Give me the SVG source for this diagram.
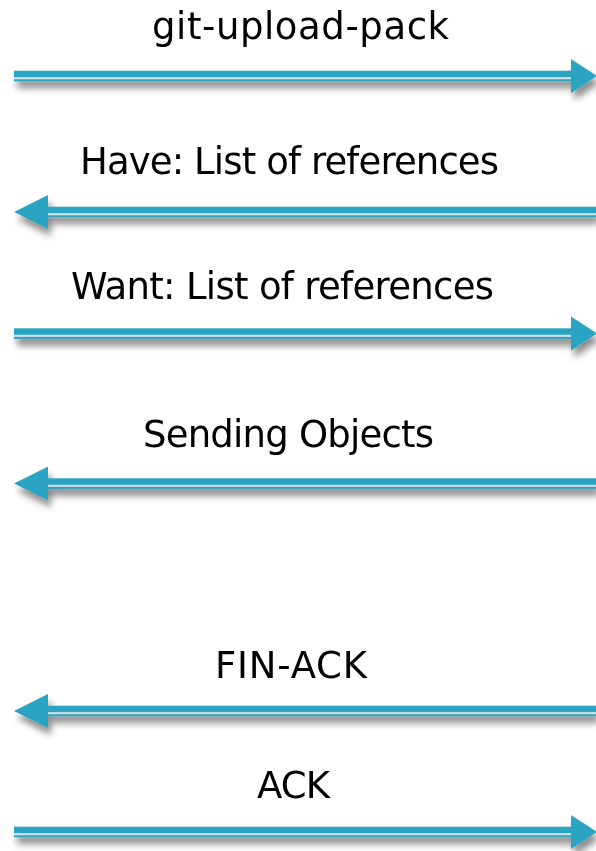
<svg xmlns="http://www.w3.org/2000/svg" width="596" height="851" viewBox="0 0 596 851">
  <style>
    .label { font-family: "DejaVu Sans", "Liberation Sans", sans-serif; font-size: 37px; fill: #000; }
    .shaft { fill: #2ca4c2; }
    .gap { fill: #d3dcdf; }
    .head { fill: #2ca4c2; }
  </style>
  <defs>
    <filter id="shadow" x="-5%" y="-100%" width="110%" height="300%">
      <feGaussianBlur in="SourceAlpha" stdDeviation="3.5"/>
      <feOffset dx="3" dy="7" result="blur"/>
      <feComponentTransfer><feFuncA type="linear" slope="0.45"/></feComponentTransfer>
      <feMerge><feMergeNode/><feMergeNode in="SourceGraphic"/></feMerge>
    </filter>
    <!-- double-line shaft with an arrowhead, centred on y=0 -->
    <g id="arrow-right">
      <rect class="shaft" x="14" y="-5.3" width="558" height="6.6"/>
      <rect class="gap" x="14" y="1.3" width="558" height="2"/>
      <rect class="shaft" x="14" y="3.3" width="558" height="2"/>
      <polygon class="head" points="571,-17 597,0 571,17"/>
    </g>
    <g id="arrow-left">
      <rect class="shaft" x="47" y="-5.3" width="549" height="6.6"/>
      <rect class="gap" x="47" y="1.3" width="549" height="2"/>
      <rect class="shaft" x="47" y="3.3" width="549" height="2"/>
      <polygon class="head" points="48,-17 14,0 48,17"/>
    </g>
  </defs>
  <rect width="596" height="851" fill="#fff"/>

  <g id="connectors" filter="url(#shadow)">
    <use id="msg-upload-pack" href="#arrow-right" transform="translate(0,76)"/>
    <use id="msg-have" href="#arrow-left" transform="translate(0,212)"/>
    <use id="msg-want" href="#arrow-right" transform="translate(0,333.6)"/>
    <use id="msg-objects" href="#arrow-left" transform="translate(0,483.6)"/>
    <use id="msg-fin-ack" href="#arrow-left" transform="translate(0,711)"/>
    <use id="msg-ack" href="#arrow-right" transform="translate(0,832)"/>
  </g>

  <g id="labels">
    <g id="label-upload-pack"><text class="label" x="152" y="39" textLength="297" lengthAdjust="spacing">git-upload-pack</text></g>
    <g id="label-have"><text class="label" x="80" y="174" textLength="419" lengthAdjust="spacing">Have: List of references</text></g>
    <g id="label-want"><text class="label" x="71" y="299" textLength="423" lengthAdjust="spacing">Want: List of references</text></g>
    <g id="label-objects"><text class="label" x="143" y="447" textLength="291" lengthAdjust="spacing">Sending Objects</text></g>
    <g id="label-fin-ack"><text class="label" x="215" y="678" textLength="152" lengthAdjust="spacing">FIN-ACK</text></g>
    <g id="label-ack"><text class="label" x="257" y="798" textLength="73" lengthAdjust="spacing">ACK</text></g>
  </g>
</svg>
